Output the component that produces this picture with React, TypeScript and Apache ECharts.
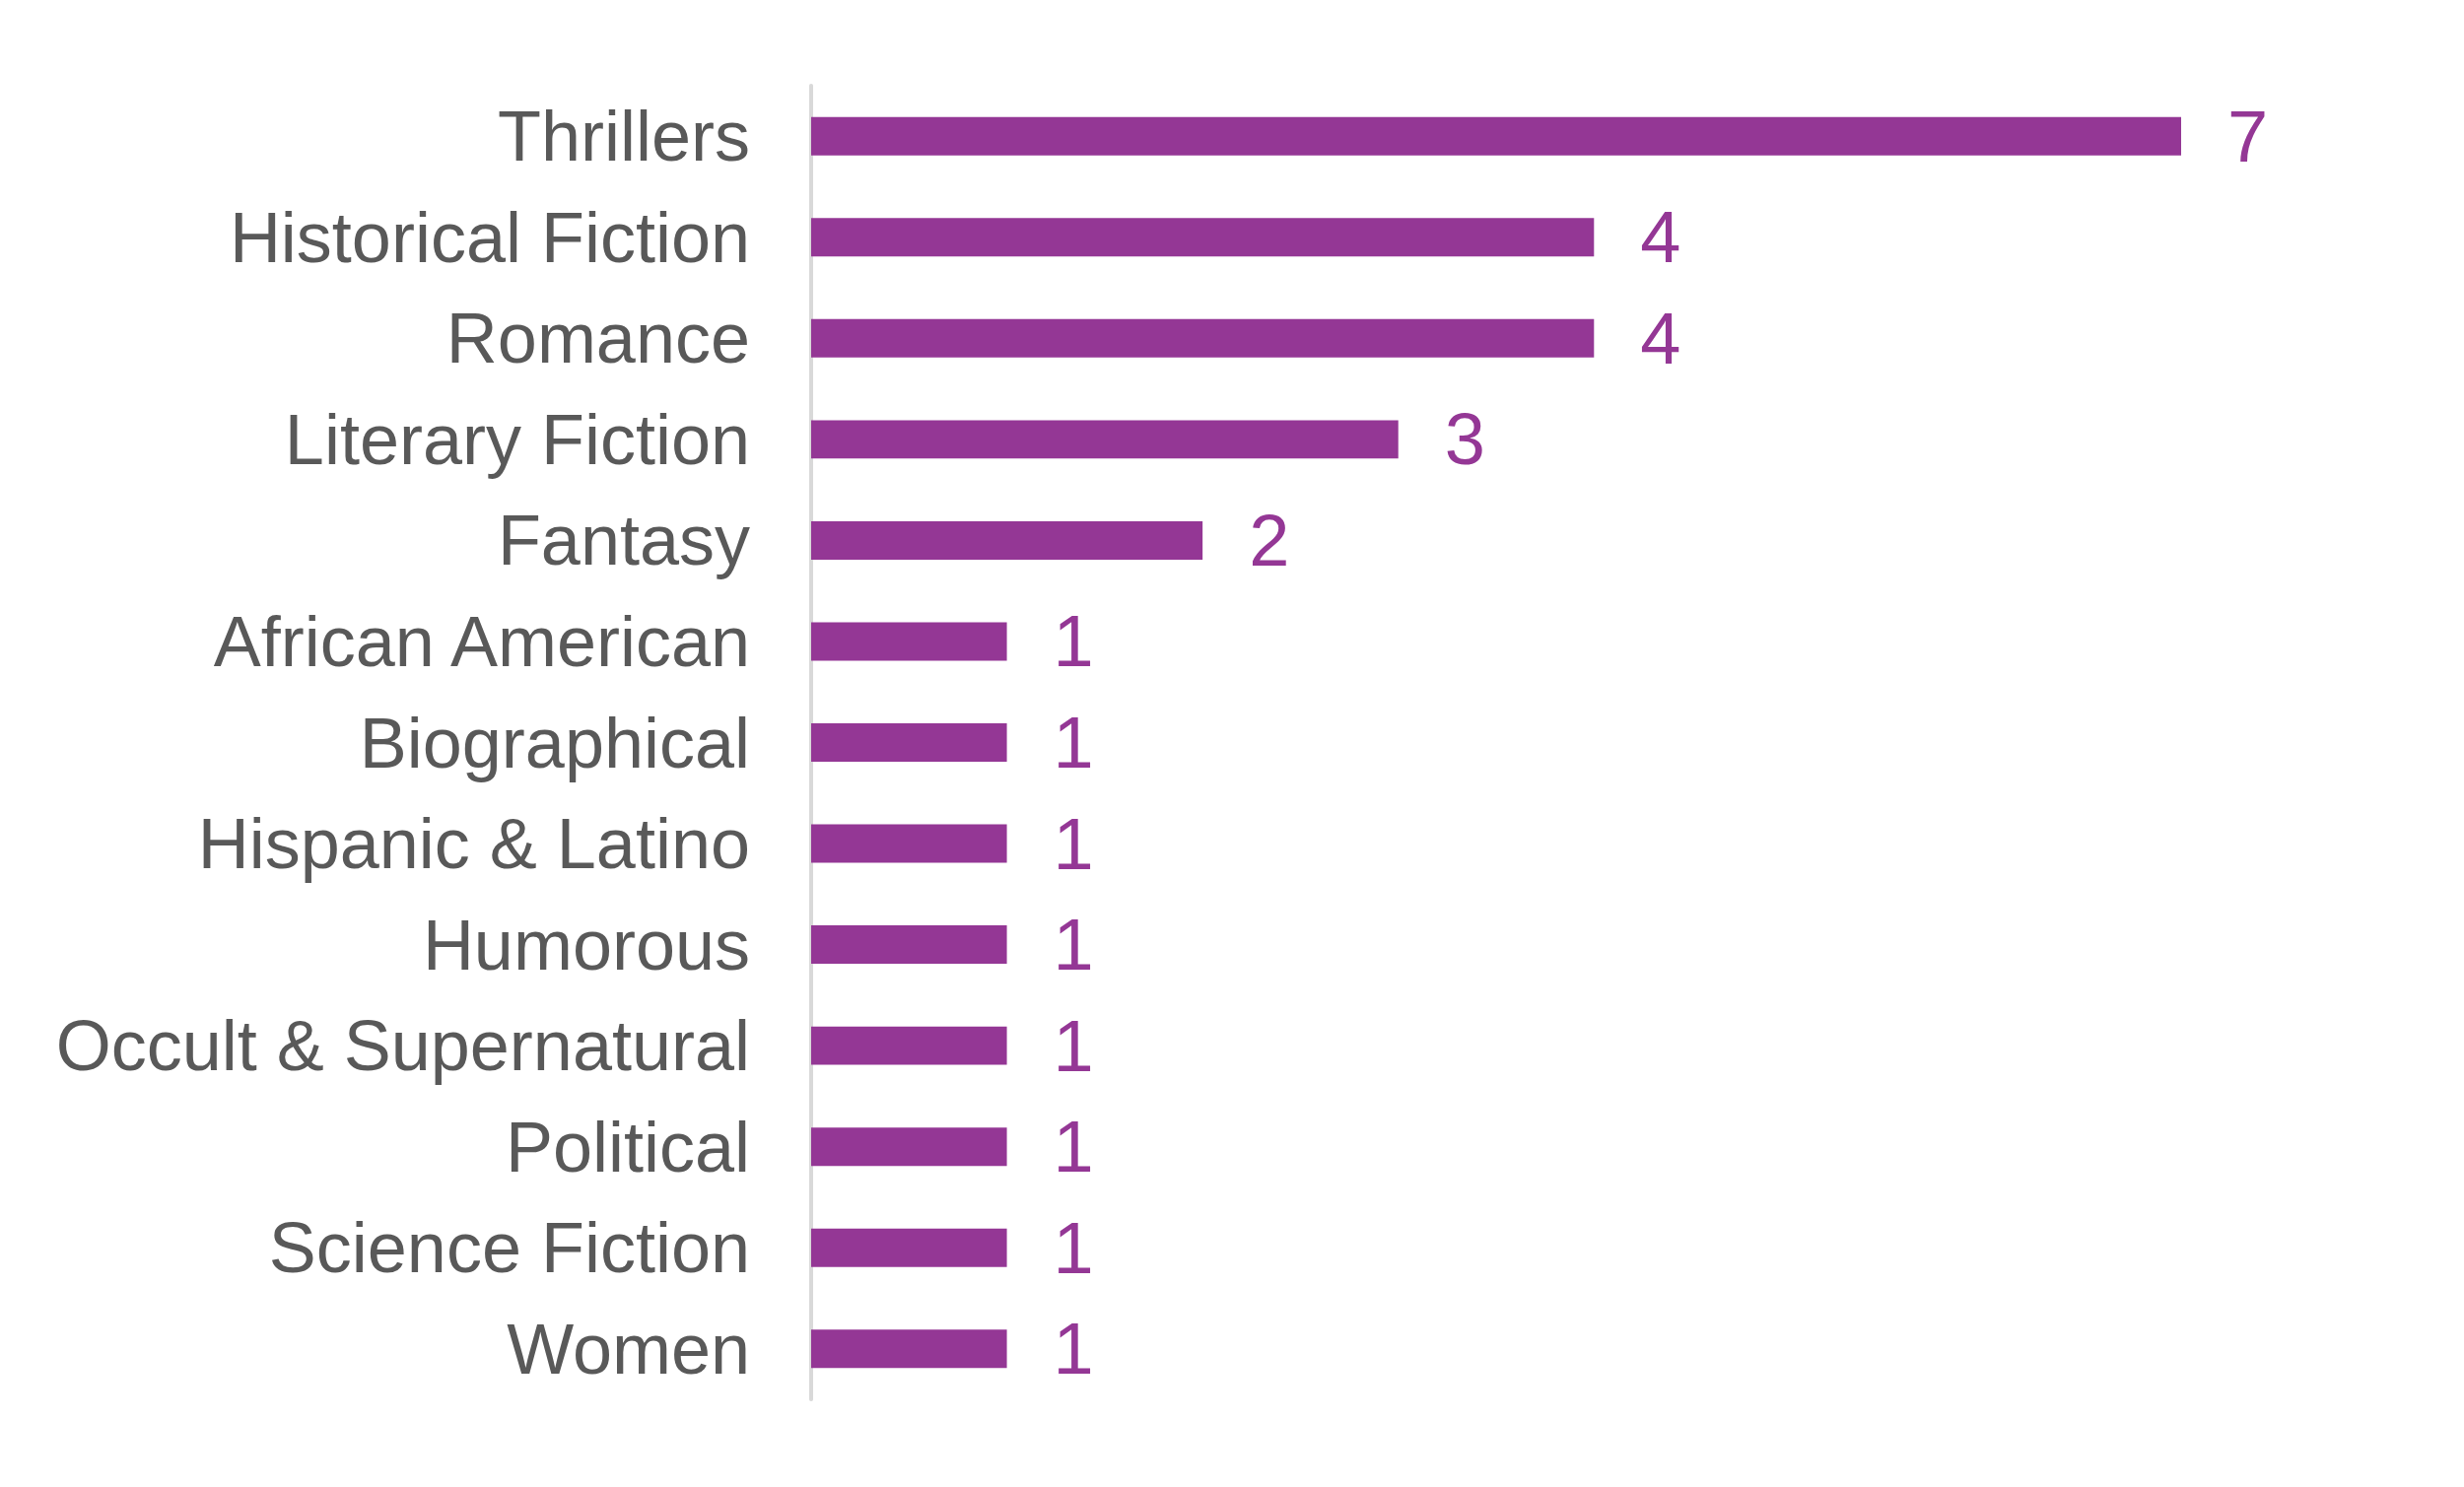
import { useEffect, useRef } from "react";
import * as echarts from "echarts";

const genres = [
  "Thrillers",
  "Historical Fiction",
  "Romance",
  "Literary Fiction",
  "Fantasy",
  "African American",
  "Biographical",
  "Hispanic & Latino",
  "Humorous",
  "Occult & Supernatural",
  "Political",
  "Science Fiction",
  "Women",
];

const counts = [7, 4, 4, 3, 2, 1, 1, 1, 1, 1, 1, 1, 1];

export default function App() {
  const chartRef = useRef<HTMLDivElement>(null);

  useEffect(() => {
    if (!chartRef.current) return;
    const chart = echarts.init(chartRef.current, undefined, { renderer: "svg" });

    const option = {
      animation: false,
      backgroundColor: "#ffffff",
      grid: {
        left: 823,
        right: 287,
        top: 87,
        bottom: 89,
        containLabel: false,
      },
      xAxis: {
        type: "value",
        min: 0,
        max: 7,
        show: false,
        splitLine: { show: false },
      },
      yAxis: {
        type: "category",
        inverse: true,
        data: genres,
        axisLine: {
          show: true,
          lineStyle: { color: "#d9d9d9", width: 4 },
        },
        axisTick: { show: false },
        axisLabel: {
          color: "#595959",
          fontFamily: "Liberation Sans, Arial, sans-serif",
          fontSize: 72,
          margin: 62,
        },
      },
      series: [
        {
          type: "bar",
          data: counts,
          barWidth: "38%",
          itemStyle: { color: "#943795" },
          label: {
            show: true,
            position: "right",
            distance: 47,
            color: "#943795",
            fontFamily: "Liberation Sans, Arial, sans-serif",
            fontSize: 74,
          },
        },
      ],
    };

    chart.setOption(option);

    return () => {
      chart.dispose();
    };
  }, []);

  return (
    <div
      ref={chartRef}
      style={{ position: "fixed", left: 0, top: 0, width: "2500px", height: "1509px" }}
    />
  );
}
